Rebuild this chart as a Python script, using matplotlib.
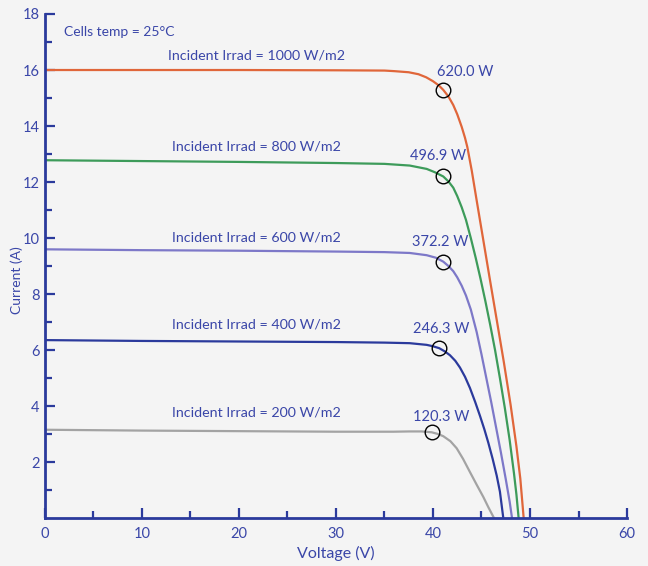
import matplotlib
matplotlib.use("Agg")
import matplotlib.pyplot as plt
from matplotlib.ticker import MultipleLocator, FixedLocator

plt.rcParams['font.family'] = ['Lato', 'DejaVu Sans']

# I-V curves (voltage V, current A)
v_1000 = [0, 10, 20, 30, 35, 36.0, 37.5, 38.5, 39.3, 40.0, 40.6, 41.06, 41.6, 42.09, 42.5,
          42.96, 43.3, 43.54, 44.0, 44.5, 45.2, 45.9, 46.6, 47.3, 48.0, 48.6, 49.0, 49.35]
i_1000 = [16.0, 16.0, 16.0, 15.99, 15.98, 15.96, 15.92, 15.85, 15.74, 15.6, 15.45, 15.29,
          15.05, 14.75, 14.42, 13.97, 13.58, 13.25, 12.4, 11.35, 9.9, 8.45, 7.02, 5.58, 4.05,
          2.57, 1.42, 0.0]

v_800 = [0, 10, 20, 30, 35, 37.6, 39.35, 40.2, 41.06, 41.6, 42.09, 42.5, 42.96, 43.4, 43.9,
         44.4, 44.9, 45.4, 45.9, 46.4, 46.9, 47.4, 47.9, 48.35, 48.6, 48.83]
i_800 = [12.78, 12.75, 12.72, 12.68, 12.65, 12.59, 12.47, 12.35, 12.2, 12.02, 11.8, 11.5,
         11.1, 10.65, 10.0, 9.3, 8.55, 7.75, 6.9, 6.0, 5.0, 3.95, 2.8, 1.6, 0.85, 0.0]

v_600 = [0, 10, 20, 30, 35, 37.6, 39.35, 40.3, 41.06, 41.6, 42.09, 42.5, 42.96, 43.4, 43.9,
         44.5, 45.0, 45.5, 46.0, 46.5, 47.0, 47.5, 47.9, 48.15]
i_600 = [9.6, 9.57, 9.55, 9.52, 9.5, 9.47, 9.39, 9.3, 9.16, 9.0, 8.82, 8.6, 8.3, 7.95, 7.45,
         6.65, 5.85, 5.0, 4.15, 3.25, 2.35, 1.4, 0.6, 0.0]

v_400 = [0, 10, 20, 30, 35, 37.6, 39.35, 40.0, 40.65, 41.2, 41.75, 42.3, 42.78, 43.3, 43.81,
         44.35, 44.85, 45.3, 45.7, 46.15, 46.57, 46.9, 47.25]
i_400 = [6.36, 6.33, 6.31, 6.29, 6.27, 6.25, 6.19, 6.14, 6.07, 5.96, 5.82, 5.62, 5.38, 5.05,
         4.65, 4.15, 3.65, 3.17, 2.7, 2.12, 1.52, 0.95, 0.0]

v_200 = [0, 10, 20, 30, 35.9, 37.6, 38.8, 39.86, 40.5, 41.06, 41.8, 42.44, 43.1, 43.81, 44.5,
         45.19, 45.7, 46.3]
i_200 = [3.16, 3.13, 3.11, 3.09, 3.09, 3.1, 3.1, 3.07, 3.01, 2.93, 2.75, 2.5, 2.12, 1.65, 1.2,
         0.76, 0.4, 0.0]

# maximum power points
mpp_v = [41.05, 41.05, 41.0, 40.65, 39.85]
mpp_i = [15.3, 12.2, 9.15, 6.08, 3.08]
mpp_labels = ['620.0 W', '496.9 W', '372.2 W', '246.3 W', '120.3 W']

irrad_labels = ['Incident Irrad = 1000 W/m2', 'Incident Irrad = 800 W/m2',
                'Incident Irrad = 600 W/m2', 'Incident Irrad = 400 W/m2',
                'Incident Irrad = 200 W/m2']
irrad_label_y = [16.52, 13.28, 10.01, 6.9, 3.78]

bg = '#f4f4f4'
axis_col = '#2b3a9c'
text_col = '#3a46a8'
colors = ['#e0663a', '#3d9b5a', '#7d78c8', '#2b3a9c', '#a3a3a3']

fig = plt.figure(figsize=(6.48, 5.66), dpi=100, facecolor=bg)
ax = fig.add_axes([0.0694, 0.0843, 0.8982, 0.891], facecolor=bg)

curves = [(v_1000, i_1000), (v_800, i_800), (v_600, i_600), (v_400, i_400), (v_200, i_200)]
for (v, i), c in zip(curves, colors):
    ax.plot(v, i, color=c, lw=1.6, solid_joinstyle='round', zorder=2)

ax.plot(mpp_v, mpp_i, 'o', ms=10.5, mfc='none', mec='black', mew=1.0, zorder=3)

label_offsets = [(16, 13), (-3.6, 14.4), (-2, 14.4), (1.4, 13.7), (7, 10.8)]
for x, y, lab, off in zip(mpp_v, mpp_i, mpp_labels, label_offsets):
    ax.annotate(lab, (x, y), xytext=off, textcoords='offset points',
                ha='center', va='center', fontsize=10.5, color=text_col)

for y, lab in zip(irrad_label_y, irrad_labels):
    ax.text(21.8, y, lab, ha='center', va='center', fontsize=10.3, color=text_col)

ax.text(2.0, 17.35, 'Cells temp = 25\u00b0C', ha='left', va='center', fontsize=10,
        color=text_col)

ax.set_xlim(0, 60)
ax.set_ylim(0, 18)
ax.xaxis.set_major_locator(MultipleLocator(10))
ax.xaxis.set_minor_locator(MultipleLocator(5))
ax.yaxis.set_major_locator(FixedLocator([2, 4, 6, 8, 10, 12, 14, 16, 18]))
ax.yaxis.set_minor_locator(FixedLocator([1, 3, 5, 7, 9, 11, 13, 15, 17]))

for s in ['top', 'right']:
    ax.spines[s].set_visible(False)
for s in ['left', 'bottom']:
    ax.spines[s].set_color(axis_col)
    ax.spines[s].set_linewidth(2)

ax.tick_params(which='major', direction='in', length=7.2, width=1.6, color=axis_col,
               labelcolor=text_col, labelsize=10.5)
ax.tick_params(axis='y', which='major', pad=4)
ax.tick_params(axis='x', which='major', pad=6)
ax.tick_params(which='minor', direction='in', length=4.8, width=1.6, color=axis_col)

ax.set_xlabel('Voltage (V)', fontsize=11.5, color=text_col, labelpad=4)
ax.set_ylabel('Current (A)', fontsize=10, color=text_col)
ax.yaxis.set_label_coords(-0.037, 0.473)

fig.savefig('out.png', dpi=100, facecolor=bg)
